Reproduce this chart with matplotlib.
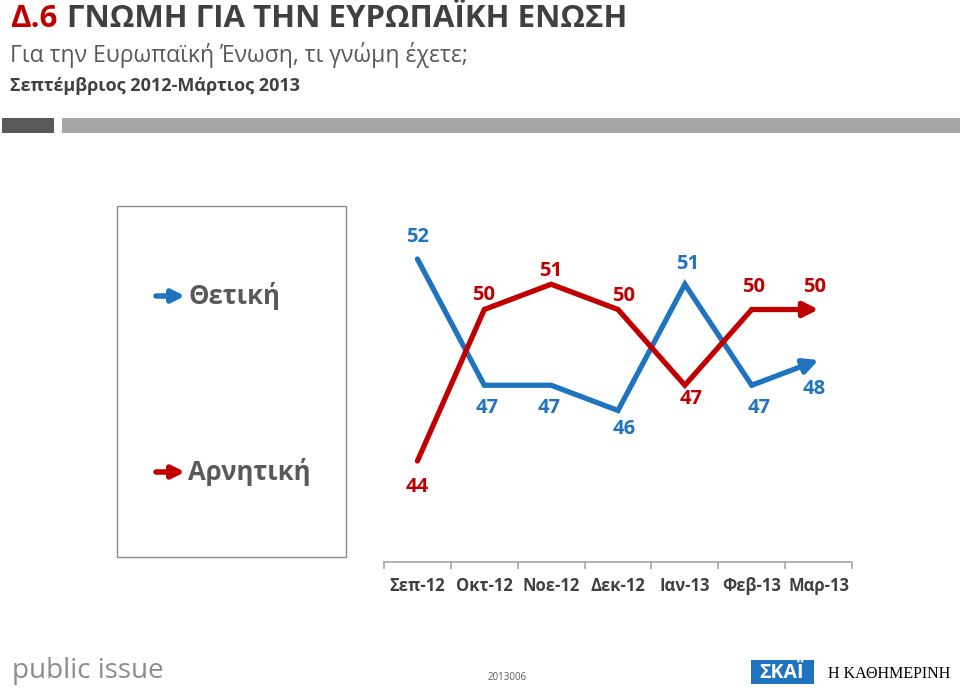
import matplotlib
matplotlib.use("Agg")
import matplotlib.pyplot as plt
from matplotlib.patches import Rectangle

months = ["Σεπ-12", "Οκτ-12", "Νοε-12", "Δεκ-12", "Ιαν-13", "Φεβ-13", "Μαρ-13"]
positive = [52, 47, 47, 46, 51, 47, 48]   # Θετική
negative = [44, 50, 51, 50, 47, 50, 50]   # Αρνητική

BLUE = "#1F74C0"
RED = "#C00000"
DARK = "#404040"
GRAY = "#595959"

plt.rcParams["font.family"] = ["Open Sans", "DejaVu Sans"]

W, H = 960, 690
fig = plt.figure(figsize=(W / 100, H / 100), dpi=100)
fig.patch.set_facecolor("white")


def fx(x):
    return x / W


def fy(y):
    return 1 - y / H


# main chart axes
ax = fig.add_axes([fx(384), fy(562), (852 - 384) / W, (562 - 208.5) / H])

# header
fig.text(fx(10), fy(19), "Δ.6", color=RED, fontsize=22.5, fontweight="bold", va="center")
fig.text(fx(67), fy(19), "ΓΝΩΜΗ ΓΙΑ ΤΗΝ ΕΥΡΩΠΑΪΚΗ ΕΝΩΣΗ", color=DARK, fontsize=22.5,
         fontweight="bold", va="center")
fig.text(fx(10), fy(55), "Για την Ευρωπαϊκή Ένωση, τι γνώμη έχετε;", color=GRAY,
         fontsize=16.5, va="center")
fig.text(fx(10), fy(86), "Σεπτέμβριος 2012-Μάρτιος 2013", color=DARK, fontsize=13,
         fontweight="bold", va="center")
fig.add_artist(Rectangle((fx(2), fy(133)), fx(52), 15 / H, transform=fig.transFigure,
                         color="#595959", lw=0))
fig.add_artist(Rectangle((fx(62), fy(133)), fx(898), 15 / H, transform=fig.transFigure,
                         color="#A6A6A6", lw=0))

# legend box
fig.add_artist(Rectangle((fx(117), fy(557)), fx(229), (557 - 206) / H,
                         transform=fig.transFigure, fill=False, edgecolor="#8C8C8C", lw=1))
for label, color, y in [("Θετική", BLUE, 296), ("Αρνητική", RED, 472)]:
    fig.text(fx(188), fy(y), label, color=GRAY, fontsize=18.5, fontweight="bold",
             va="center")
    ax.annotate("", xy=(185, H - y), xytext=(156, H - y), xycoords="figure pixels",
                annotation_clip=False,
                arrowprops=dict(arrowstyle="-|>", color=color, lw=4,
                                mutation_scale=18, shrinkA=0, shrinkB=0,
                                capstyle="round"))

x = list(range(len(months)))

for vals, color in [(positive, BLUE), (negative, RED)]:
    ax.plot(x[:-1], vals[:-1], color=color, lw=3.8, solid_capstyle="round",
            solid_joinstyle="miter")
    ax.annotate("", xy=(x[-1], vals[-1]), xytext=(x[-2], vals[-2]),
                arrowprops=dict(arrowstyle="-|>", color=color, lw=3.8,
                                mutation_scale=22, shrinkA=0, shrinkB=0))

pos_off = [(0, 22), (3, -23), (-2, -23), (6, -19), (3, 20), (7, -23), (-4, -29)]
neg_off = [(0, -26), (-1, 14), (-1, 13), (6, 13), (6, -14), (2, 22), (-4, 22)]
for vals, offs, color in [(positive, pos_off, BLUE), (negative, neg_off, RED)]:
    for xi, v, (dx, dy) in zip(x, vals, offs):
        ax.annotate(str(v), (xi, v), xytext=(dx, dy), textcoords="offset pixels",
                    ha="center", va="center", color=color, fontsize=14.5,
                    fontweight="bold")

ax.set_xlim(-0.5, 6.5)
ax.set_ylim(40, 54)
for s in ["top", "right", "left"]:
    ax.spines[s].set_visible(False)
ax.spines["bottom"].set_color("#A6A6A6")
ax.spines["bottom"].set_linewidth(1.2)
ax.set_yticks([])
ax.set_xticks(x)
ax.set_xticklabels(months, fontsize=12, fontweight="bold", color=DARK)
ax.tick_params(axis="x", which="major", length=0, pad=11)
ax.set_xticks([i - 0.5 for i in range(len(months) + 1)], minor=True)
ax.tick_params(axis="x", which="minor", length=5, color="#A6A6A6", width=1.2,
               direction="out")
ax.patch.set_alpha(0)

# footer
fig.text(fx(12), fy(671), "public issue", color="#8C8C8C", fontsize=20, va="center")
fig.text(fx(507), fy(678), "2013006", color=GRAY, fontsize=7, va="center", ha="center")
fig.add_artist(Rectangle((fx(751), fy(684)), fx(63), 24 / H, transform=fig.transFigure,
                         color="#1F74C0", lw=0))
fig.text(fx(782), fy(673), "ΣΚΑΪ", color="white", fontsize=14, fontweight="bold",
         va="center", ha="center")
fig.text(fx(828), fy(674), "Η ΚΑΘΗΜΕΡΙΝΗ", color="black", fontsize=11.5,
         family=["Liberation Serif", "DejaVu Serif"], va="center")

fig.savefig("out.png", dpi=100)
